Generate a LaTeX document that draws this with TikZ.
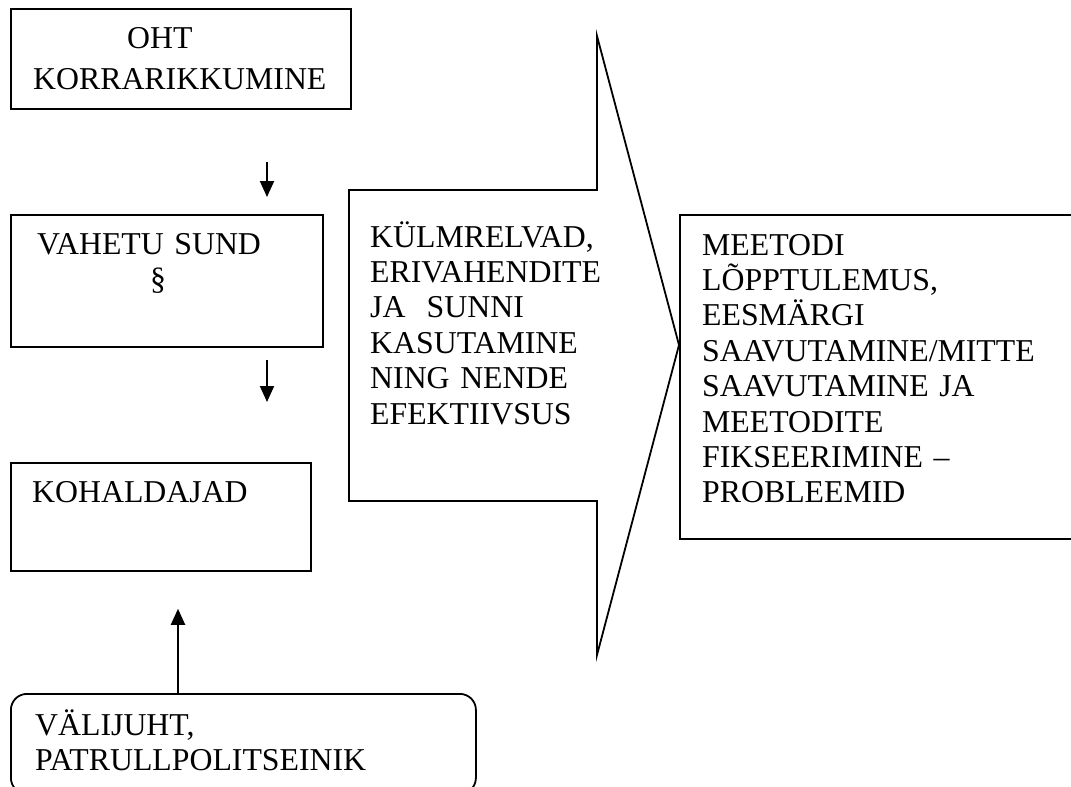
\documentclass[tikz,border=0pt]{standalone}
\usepackage{fontspec}
\setmainfont{Liberation Serif}
\usetikzlibrary{arrows.meta}

\begin{document}
\begin{tikzpicture}[
    x=1pt, y=-1pt,
    box/.style={draw=black, line width=1.8pt, fill=white,
        anchor=north west, inner sep=0pt},
    txt/.style={anchor=base west, inner sep=0pt, align=left, text width=400pt,
        font=\fontsize{31.8}{35.4}\selectfont},
    arrow/.style={line width=2pt, -{Triangle[length=16pt,width=14pt]}}
]
    \useasboundingbox (0,0) rectangle (1071,787);
    \draw[line width=1.8pt] (349,190) -- (597,190) -- (597,36) -- (679,345)
        -- (597,655) -- (597,501) -- (349,501) -- cycle;
    \node[box, minimum width=340pt, minimum height=100pt] (oht) at (10,8) {};
    \node[box, minimum width=312pt, minimum height=132pt] (vahetu) at (10,214) {};
    \node[box, minimum width=300pt, minimum height=108pt] (kohaldajad) at (10,462) {};
    \node[box, rounded corners=16pt, minimum width=465pt, minimum height=100pt] (valijuht) at (10,693) {};
    \node[box, minimum width=400pt, minimum height=324pt] (meetodi) at (679,214) {};
    \node[txt] (ohtText) at (33,48) {\hspace*{94pt}OHT\\[6pt]KORRARIKKUMINE};
    \node[txt] (vahetuText) at (37,254) {VAHETU SUND\\\hspace*{113pt}§};
    \node[txt] (kohaldajadText) at (32,502) {KOHALDAJAD};
    \node[txt] (valijuhtText) at (35,735) {VÄLIJUHT,\\PATRULLPOLITSEINIK};
    \node[txt] (kulmText) at (370,247) {KÜLMRELVAD,\\ERIVAHENDITE\\JA\ \ SUNNI\\KASUTAMINE\\NING NENDE\\EFEKTIIVSUS};
    \node[txt] (meetodiText) at (702,255) {MEETODI\\LÕPPTULEMUS,\\EESMÄRGI\\SAAVUTAMINE/MITTE\\SAAVUTAMINE JA\\MEETODITE\\FIKSEERIMINE –\\PROBLEEMID};
    \coordinate (c1) at (267,0);
    \coordinate (c2) at (178,0);
    \draw[arrow, shorten <=52pt, shorten >=17pt] (oht.south -| c1) -- (vahetu.north -| c1);
    \draw[arrow, shorten <=12pt, shorten >=60pt] (vahetu.south -| c1) -- (kohaldajad.north -| c1);
    \draw[arrow, shorten >=37pt] (valijuht.north -| c2) -- (kohaldajad.south -| c2);
\end{tikzpicture}
\end{document}
